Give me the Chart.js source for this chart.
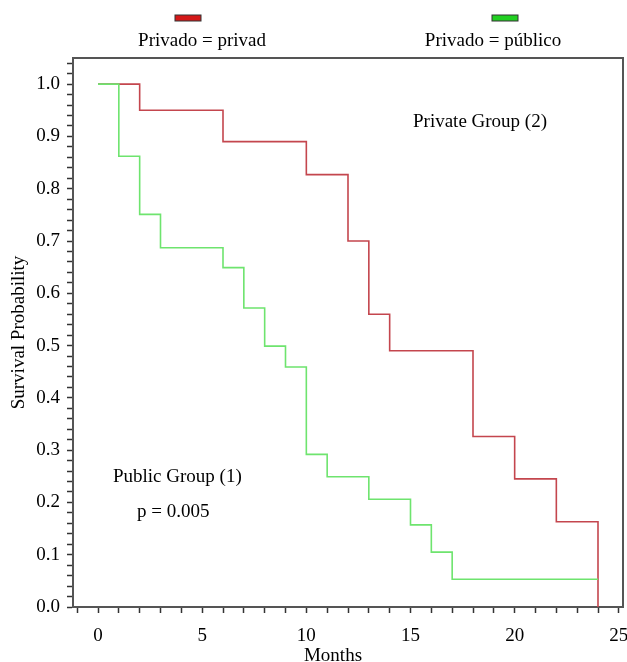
<!DOCTYPE html>
<html>
<head>
<meta charset="utf-8">
<script src="https://cdn.jsdelivr.net/npm/chart.js@4"></script>
<style>
  body { margin: 0; background: #fff; }
</style>
</head>
<body>
<canvas id="km-chart" width="627" height="662"></canvas>
<script>
const privateMonths = [0, 2, 6, 10, 12, 13, 14, 18, 20, 22, 24]
const privateSurvival = [1, 0.95, 0.89, 0.827, 0.70, 0.56, 0.49, 0.326, 0.245, 0.163, 0]
const publicMonths = [0, 1, 2, 3, 6, 7, 8, 9, 10, 11, 13, 15, 16, 17, 24]
const publicSurvival = [1, 0.862, 0.751, 0.687, 0.649, 0.572, 0.499, 0.459, 0.292, 0.249, 0.206, 0.157, 0.105, 0.053, 0.053]
const legendLabels = ['Privado = privad', 'Privado = público']

const serif = { family: 'Liberation Serif', size: 19 };

function toPoints(xs, ys) {
  return xs.map((x, i) => ({ x: x, y: ys[i] }));
}

// legend, frame and free text labels
const extras = {
  id: 'extras',
  afterDraw(chart) {
    const ctx = chart.ctx;
    const area = chart.chartArea;
    ctx.save();
    ctx.strokeStyle = '#555';
    ctx.lineWidth = 2;
    ctx.beginPath();
    ctx.moveTo(area.left, area.top);
    ctx.lineTo(area.right, area.top);
    ctx.lineTo(area.right, area.bottom);
    ctx.stroke();

    // legend swatches
    ctx.lineWidth = 1;
    ctx.strokeStyle = '#333';
    ctx.fillStyle = '#d41818';
    ctx.fillRect(175, 15, 26, 6);
    ctx.strokeRect(175, 15, 26, 6);
    ctx.fillStyle = '#22d022';
    ctx.fillRect(492, 15, 26, 6);
    ctx.strokeRect(492, 15, 26, 6);

    ctx.fillStyle = '#000';
    ctx.font = '19px "Liberation Serif"';
    ctx.textBaseline = 'middle';
    ctx.textAlign = 'center';
    ctx.fillText(legendLabels[0], 202, 41);
    ctx.fillText(legendLabels[1], 493, 41);
    ctx.fillText('Months', 333, 656);

    ctx.textAlign = 'left';
    ctx.fillText('Private Group (2)', 413, 122);
    ctx.fillText('Public Group (1)', 113, 477);
    ctx.fillText('p = 0.005', 137, 512);
    ctx.restore();
  }
};

new Chart(document.getElementById('km-chart').getContext('2d'), {
  type: 'line',
  data: {
    datasets: [{
      label: legendLabels[0],
      data: toPoints(privateMonths, privateSurvival),
      borderColor: '#c4464e',
      borderWidth: 1.6,
      stepped: true,
      pointRadius: 0,
      fill: false,
      order: 1
    }, {
      label: legendLabels[1],
      data: toPoints(publicMonths, publicSurvival),
      borderColor: '#6ee46e',
      borderWidth: 1.6,
      stepped: true,
      pointRadius: 0,
      fill: false,
      order: 0
    }]
  },
  options: {
    responsive: false,
    animation: false,
    layout: { padding: { top: 58, right: 4, left: 0, bottom: 0 } },
    plugins: {
      legend: { display: false },
      tooltip: { enabled: false }
    },
    scales: {
      x: {
        type: 'linear',
        min: -1.2,
        max: 25.2,
        ticks: {
          stepSize: 1,
          autoSkip: false,
          includeBounds: false,
          maxRotation: 0,
          padding: 12,
          color: '#000',
          font: serif,
          callback: v => (v >= 0 && v % 5 === 0) ? String(v) : ''
        },
        grid: { drawOnChartArea: false, tickLength: 6, tickColor: '#333', tickWidth: 1.5 },
        border: { color: '#555', width: 2 },
        afterFit: s => { s.height = 55; s.paddingLeft = 0; s.paddingRight = 0; }
      },
      y: {
        min: 0,
        max: 1.05,
        ticks: {
          stepSize: 0.02,
          autoSkip: false,
          includeBounds: false,
          padding: 7,
          color: '#000',
          font: serif,
          callback: v => Math.abs(v * 10 - Math.round(v * 10)) < 1e-6 ? v.toFixed(1) : ''
        },
        grid: { drawOnChartArea: false, tickLength: 6, tickColor: '#333', tickWidth: 1.5 },
        border: { color: '#555', width: 2 },
        title: {
          display: true,
          text: 'Survival Probability',
          color: '#000',
          font: serif,
          padding: { top: 8, bottom: 0 }
        },
        afterFit: s => { s.width = 73; s.paddingTop = 0; s.paddingBottom = 0; }
      }
    }
  },
  plugins: [extras]
});
</script>
</body>
</html>
